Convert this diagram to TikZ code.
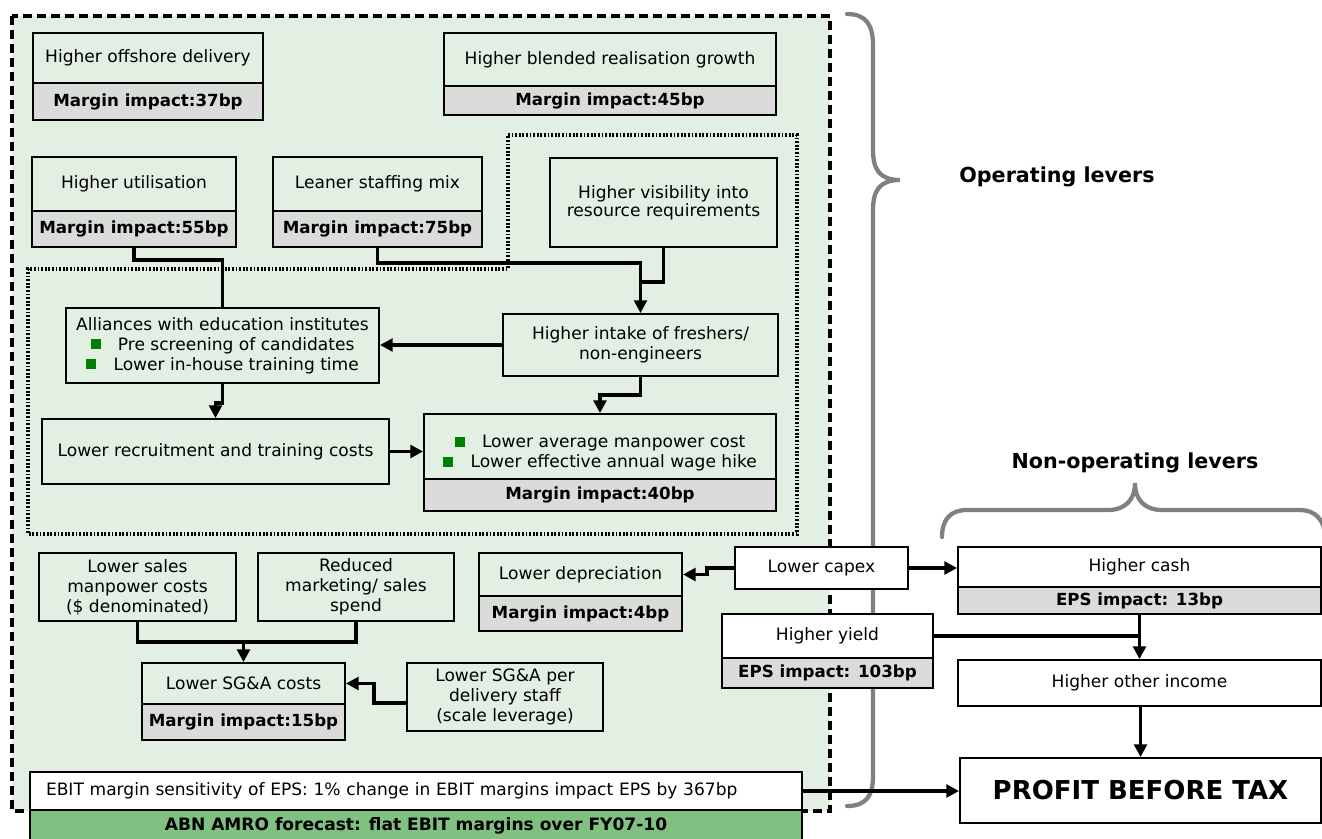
\documentclass[tikz,border=0pt]{standalone}
\usepackage{fontspec}
\setmainfont{DejaVu Sans}
\usetikzlibrary{arrows.meta,calc}
\definecolor{lgreen}{HTML}{E2EFE2}
\definecolor{lgrey}{HTML}{D9DCD9}
\definecolor{abng}{HTML}{80C080}
\definecolor{bgreen}{HTML}{008000}
\definecolor{braceg}{HTML}{808080}
\newcommand{\fs}{\fontsize{12.8}{15}\selectfont}
\newcommand{\fb}{\fontsize{12.5}{15}\selectfont\bfseries}
\newcommand{\bul}{\textcolor{bgreen}{\rule[0.6pt]{7.5pt}{7.5pt}}\hspace{13pt}}
\begin{document}
\begin{tikzpicture}[x=0.75pt,y=-0.75pt,
 bx/.style 2 args={draw, line width=1.4pt, rectangle, inner sep=0pt, minimum width=#1*0.75pt, minimum height=#2*0.75pt, align=center, font=\fs},
 gbox/.style={fill=lgreen},
 wbox/.style={fill=white},
 ibox/.style={fill=lgrey, font=\fb},
 arr/.style={line width=2.4pt, -{Triangle[length=9.5pt,width=9.5pt]}},
 ln/.style={line width=2.4pt},
 brace/.style={draw=braceg, line width=3.2pt, line cap=round},
 lever/.style={font=\fontsize{15.5}{17}\selectfont\bfseries},
 outerbox/.style={line width=2.5pt, dash pattern=on 7pt off 3.5pt, fill=lgreen},
 dotbox/.style={line width=2.7pt, dash pattern=on 1.4pt off 1.3pt},
 plain/.style={inner sep=0pt, align=center, font=\fs}
]
\useasboundingbox (0,0) rectangle (1322,839);

% regions
\draw[outerbox] (12,16) rectangle (830,811);
\draw[dotbox] (508,135) -- (797,135) -- (797,534) -- (28,534) -- (28,269) -- (508,269) -- cycle;

% braces
\draw[brace] (847,14) .. controls (866,14) and (873,25) .. (873,45) -- (873,150)
  .. controls (873,170) and (880,180) .. (900,180)
  .. controls (880,180) and (873,190) .. (873,210) -- (873,776)
  .. controls (873,796) and (866,806) .. (847,806);
\draw[brace] (942,537) .. controls (942,520) and (950,510) .. (967,510) -- (1108,510)
  .. controls (1125,510) and (1135,500) .. (1135,483)
  .. controls (1135,500) and (1145,510) .. (1162,510) -- (1300,510)
  .. controls (1315,510) and (1325,520) .. (1325,537);
\node[lever] (oplab) at (1057,177) {Operating levers};
\node[lever] (noplab) at (1135,463) {Non-operating levers};

% top boxes
\node[bx={230}{50}, gbox] (offT) at (148,58) {Higher offshore delivery};
\node[bx={230}{37}, ibox] (offB) at (148,101.5) {Margin impact:37bp};
\node[bx={332}{53}, gbox] (blT) at (610,59.5) {Higher blended realisation growth};
\node[bx={332}{29}, ibox] (blB) at (610,100.5) {Margin impact:45bp};
\node[bx={204}{54}, gbox] (utilT) at (134,184) {Higher utilisation};
\node[bx={204}{36}, ibox] (utilB) at (134,229) {Margin impact:55bp};
\node[bx={209}{54}, gbox] (leanT) at (377.5,184) {Leaner staffing mix};
\node[bx={209}{36}, ibox] (leanB) at (377.5,229) {Margin impact:75bp};
\node[bx={227}{89}, gbox, font=\fontsize{12.8}{13.8}\selectfont] (vis) at (663.5,202.5) {Higher visibility into\\resource requirements};

% middle
\node[bx={313}{75}, gbox] (all) at (222.5,345.5) {Alliances with education institutes\\\bul Pre screening of candidates\\\bul Lower in-house training time};
\node[bx={275}{62}, gbox] (intake) at (640.5,345) {Higher intake of freshers/\\non-engineers};
\node[bx={347}{65}, gbox] (recr) at (215.5,451.5) {Lower recruitment and training costs};
\node[bx={352}{65}, gbox] (avgT) at (600,446.5) {};
\node[plain] (avgtxt) at (600,453) {\bul Lower average manpower cost\\\bul Lower effective annual wage hike};
\node[bx={352}{32}, ibox] (avgB) at (600,495) {Margin impact:40bp};

% lower
\node[bx={197}{68}, gbox] (sales) at (137.5,587) {Lower sales\\manpower costs\\(\$ denominated)};
\node[bx={196}{68}, gbox] (mkt) at (356,587) {Reduced\\marketing/ sales\\spend};
\node[bx={203}{43}, gbox] (depT) at (580.5,574.5) {Lower depreciation};
\node[bx={203}{35}, ibox] (depB) at (580.5,613.5) {Margin impact:4bp};
\node[bx={203}{41}, gbox] (sgaT) at (243.5,683.5) {Lower SG\&A costs};
\node[bx={203}{36}, ibox] (sgaB) at (243.5,722) {Margin impact:15bp};
\node[bx={196}{68}, gbox] (sgap) at (505,697) {Lower SG\&A per\\delivery staff\\(scale leverage)};

% right side
\node[bx={173}{42}, wbox] (capex) at (821.5,568) {Lower capex};
\node[bx={211}{44}, wbox] (yieldT) at (827.5,636) {Higher yield};
\node[bx={211}{30}, ibox] (yieldB) at (827.5,673) {EPS impact: 103bp};
\node[bx={363}{40}, wbox] (cashT) at (1139.5,567) {Higher cash};
\node[bx={363}{27}, ibox] (cashB) at (1139.5,600.5) {EPS impact: 13bp};
\node[bx={363}{46}, wbox] (other) at (1139.5,683) {Higher other income};
\node[bx={361}{65}, wbox, font=\fontsize{19.5}{22}\selectfont\bfseries] (pbt) at (1140.5,790.5) {PROFIT BEFORE TAX};

% bottom bars
\node[bx={772}{38}, wbox, text width=740*0.75pt, align=left] (ebit) at (416,791) {EBIT margin sensitivity of EPS: 1\% change in EBIT margins impact EPS by 367bp};
\node[bx={772}{32}, fill=abng, font=\fontsize{12.8}{14}\selectfont\bfseries] (abn) at (416,826) {ABN AMRO forecast: flat EBIT margins over FY07-10};

% connectors
\draw[ln] (utilB.south) -- ++(0,12) -| (all.north);
\draw[arr] (leanB.south) -- ++(0,15) -| (intake.north);
\draw[ln] (vis.south) -- ++(0,34) -| ([yshift=24.75pt]intake.north);
\draw[arr] (intake.west) -- (intake.west -| all.east);
\draw[arr] (all.south) -- ++(0,19) -| (recr.north);
\draw[arr] (intake.south) -- ++(0,18) -| (avgT.north);
\draw[arr] (recr.east) -- (recr.east -| avgT.west);
\coordinate (j1) at (243.5,642);
\draw[ln] (sales.south) -- (sales.south |- j1) -- (mkt.south |- j1) -- (mkt.south);
\draw[arr] (j1) -- (sgaT.north);
\draw[arr] ([yshift=-4.5pt]sgap.west) -- ++(-32,0) |- (sgaT.east);
\draw[arr] (capex.west) -- ++(-27,0) |- (depT.east);
\draw[arr] (capex.east) -- (capex.east -| cashT.west);
\draw[arr] (yieldT.east) -| (other.north);
\draw[ln] (cashB.south) -- ++(0,22);
\draw[arr] (other.south) -- (other.south -| pbt.north) -- (pbt.north);
\draw[arr] (ebit.east) -- (ebit.east -| pbt.west);
\end{tikzpicture}
\end{document}
